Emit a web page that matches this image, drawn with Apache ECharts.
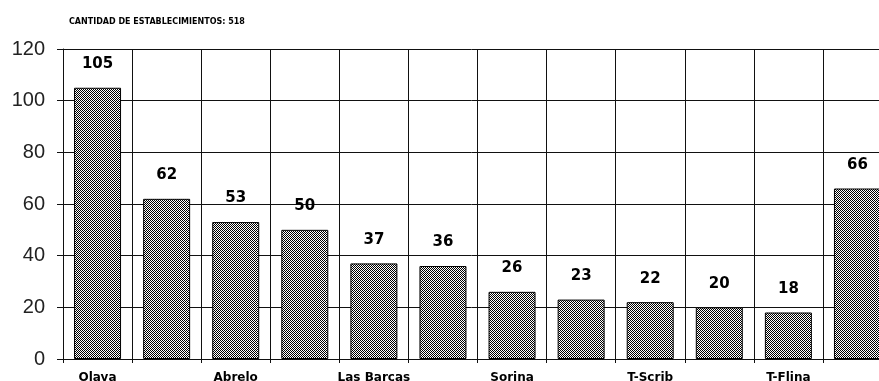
<!DOCTYPE html>
<html>
<head>
<meta charset="utf-8">
<script src="https://cdn.jsdelivr.net/npm/echarts@6/dist/echarts.min.js"></script>
<style>
html,body{margin:0;padding:0;background:#fff;}
#chart{width:879px;height:381px;}
</style>
</head>
<body>
<div id="chart"></div>
<script>
var titleText = "CANTIDAD DE ESTABLECIMIENTOS: 518";
var categories = ["Olaya", "Centro", "Abrelo", "Jardín", "Las Barcas", "Norte", "Sorina", "Puerto", "T-Scrib", "Molino", "T-Flina", "Otros"];
var values = [105, 62, 53, 50, 37, 36, 26, 23, 22, 20, 18, 66];
var yTicks = [0, 20, 40, 60, 80, 100, 120];

// checkerboard dither pattern
var pc = document.createElement('canvas');
pc.width = 8; pc.height = 8;
var pctx = pc.getContext('2d');
pctx.fillStyle = '#ffffff'; pctx.fillRect(0,0,8,8);
pctx.fillStyle = '#000000';
for (var i = 0; i < 8; i++) { for (var j = 0; j < 8; j++) { if ((i + j) % 2 === 0) pctx.fillRect(i, j, 1, 1); } }

var chart = echarts.init(document.getElementById('chart'), null, {renderer:'canvas'});
var lineStyle = {color:'#111', width:1};
chart.setOption({
  animation:false,
  backgroundColor:'#ffffff',
  title:{
    text:titleText, left:64, top:13,
    textStyle:{fontFamily:'DejaVu Sans', fontSize:8, fontWeight:900, color:'#000'}
  },
  grid:{left:63, top:49, width:829, height:310, containLabel:false, outerBoundsMode:'none'},
  xAxis:{
    type:'category',
    data:categories,
    boundaryGap:true,
    axisLine:{show:true, lineStyle:lineStyle},
    axisTick:{show:true, interval:0, length:4, lineStyle:lineStyle},
    splitLine:{show:true, interval:0, lineStyle:lineStyle},
    axisLabel:{interval:1, margin:13, fontFamily:'DejaVu Sans', fontSize:12, fontWeight:'bold', color:'#000'}
  },
  yAxis:{
    type:'value',
    min:yTicks[0], max:yTicks[yTicks.length-1], interval:yTicks[1]-yTicks[0],
    axisLine:{show:true, lineStyle:lineStyle},
    axisTick:{show:true, length:6, lineStyle:lineStyle},
    splitLine:{show:true, lineStyle:lineStyle},
    axisLabel:{margin:18, fontFamily:'Liberation Sans', fontSize:20, color:'#222'}
  },
  series:[{
    type:'bar',
    data:values,
    barWidth:47,
    itemStyle:{color:{image:pc, repeat:'repeat'}, borderColor:'#000', borderWidth:1},
    label:{show:true, position:'top', distance:16, fontFamily:'DejaVu Sans', fontSize:15, fontWeight:'bold', color:'#000'}
  }]
});
</script>
</body>
</html>
